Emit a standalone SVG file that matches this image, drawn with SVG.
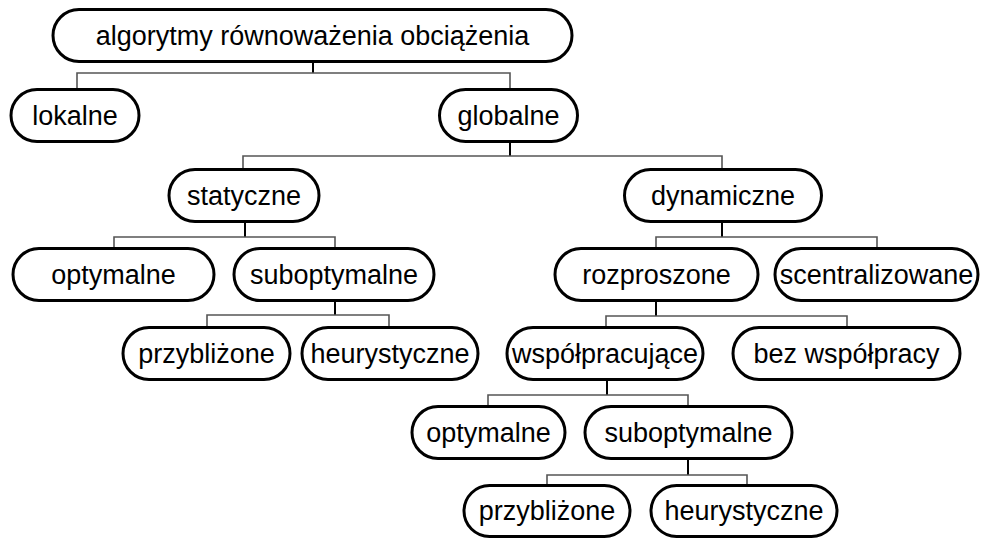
<svg xmlns="http://www.w3.org/2000/svg" width="981" height="540" viewBox="0 0 981 540">
  <style>
    .box { fill: #ffffff; stroke: #000000; stroke-width: 3; }
    .lbl { font-family: "Liberation Sans", Arial, sans-serif; font-size: 27px; fill: #000000; text-anchor: middle; }
    .bar { fill: none; stroke: #555555; stroke-width: 1.6; }
    .stem { fill: none; stroke: #000000; stroke-width: 2; }
  </style>
  <rect width="981" height="540" fill="#ffffff"/>

  <!-- tree connectors: stem down from parent, bar across, drops to children -->
  <g id="connectors">
    <path class="stem" d="M313 61 V73"/>
    <path class="bar" d="M77 89 V73 H510 V89"/>

    <path class="stem" d="M510 141 V156"/>
    <path class="bar" d="M243 169 V156 H722 V169"/>

    <path class="stem" d="M245 221 V237"/>
    <path class="bar" d="M114 248 V237 H335 V248"/>

    <path class="stem" d="M722 221 V237"/>
    <path class="bar" d="M656 248 V237 H877 V248"/>

    <path class="stem" d="M335 300 V315"/>
    <path class="bar" d="M207 327 V315 H389 V327"/>

    <path class="stem" d="M656 300 V316"/>
    <path class="bar" d="M606 327 V316 H847 V327"/>

    <path class="stem" d="M607 379 V395"/>
    <path class="bar" d="M488 406 V395 H688 V406"/>

    <path class="stem" d="M688 458 V475"/>
    <path class="bar" d="M547 485 V475 H747 V485"/>
  </g>

  <g id="root">
    <rect class="box" x="53" y="9.5" width="519" height="52" rx="26"/>
    <text class="lbl" x="312.5" y="45">algorytmy równoważenia obciążenia</text>
  </g>

  <g id="lokalne">
    <rect class="box" x="11" y="89.5" width="128" height="52" rx="26"/>
    <text class="lbl" x="75" y="125">lokalne</text>
  </g>
  <g id="globalne">
    <rect class="box" x="439.5" y="89.5" width="138" height="52" rx="26"/>
    <text class="lbl" x="508.5" y="125">globalne</text>
  </g>

  <g id="statyczne">
    <rect class="box" x="169" y="169.5" width="150" height="52" rx="26"/>
    <text class="lbl" x="244" y="205">statyczne</text>
  </g>
  <g id="dynamiczne">
    <rect class="box" x="624.5" y="169.5" width="197" height="52" rx="26"/>
    <text class="lbl" x="723" y="205">dynamiczne</text>
  </g>

  <g id="statyczne-optymalne">
    <rect class="box" x="13" y="248.5" width="201" height="52" rx="26"/>
    <text class="lbl" x="113.5" y="284">optymalne</text>
  </g>
  <g id="statyczne-suboptymalne">
    <rect class="box" x="234" y="248.5" width="200" height="52" rx="26"/>
    <text class="lbl" x="334" y="284">suboptymalne</text>
  </g>
  <g id="rozproszone">
    <rect class="box" x="555" y="248.5" width="203" height="52" rx="26"/>
    <text class="lbl" x="656.5" y="284">rozproszone</text>
  </g>
  <g id="scentralizowane">
    <rect class="box" x="775" y="248.5" width="203" height="52" rx="26"/>
    <text class="lbl" x="876.5" y="284">scentralizowane</text>
  </g>

  <g id="statyczne-przyblizone">
    <rect class="box" x="123" y="327.5" width="167" height="52" rx="26"/>
    <text class="lbl" x="206.5" y="363">przybliżone</text>
  </g>
  <g id="statyczne-heurystyczne">
    <rect class="box" x="302" y="327.5" width="176" height="52" rx="26"/>
    <text class="lbl" x="390" y="363">heurystyczne</text>
  </g>
  <g id="wspolpracujace">
    <rect class="box" x="507" y="327.5" width="196" height="52" rx="26"/>
    <text class="lbl" x="605" y="363">współpracujące</text>
  </g>
  <g id="bez-wspolpracy">
    <rect class="box" x="733" y="327.5" width="227" height="52" rx="26"/>
    <text class="lbl" x="846.5" y="363">bez współpracy</text>
  </g>

  <g id="dynamiczne-optymalne">
    <rect class="box" x="412" y="406.5" width="153" height="52" rx="26"/>
    <text class="lbl" x="488.5" y="442">optymalne</text>
  </g>
  <g id="dynamiczne-suboptymalne">
    <rect class="box" x="585" y="406.5" width="207" height="52" rx="26"/>
    <text class="lbl" x="688.5" y="442">suboptymalne</text>
  </g>

  <g id="dynamiczne-przyblizone">
    <rect class="box" x="464" y="485.5" width="166" height="51" rx="25.5"/>
    <text class="lbl" x="547" y="520">przybliżone</text>
  </g>
  <g id="dynamiczne-heurystyczne">
    <rect class="box" x="651" y="485.5" width="186" height="51" rx="25.5"/>
    <text class="lbl" x="744" y="520">heurystyczne</text>
  </g>
</svg>
